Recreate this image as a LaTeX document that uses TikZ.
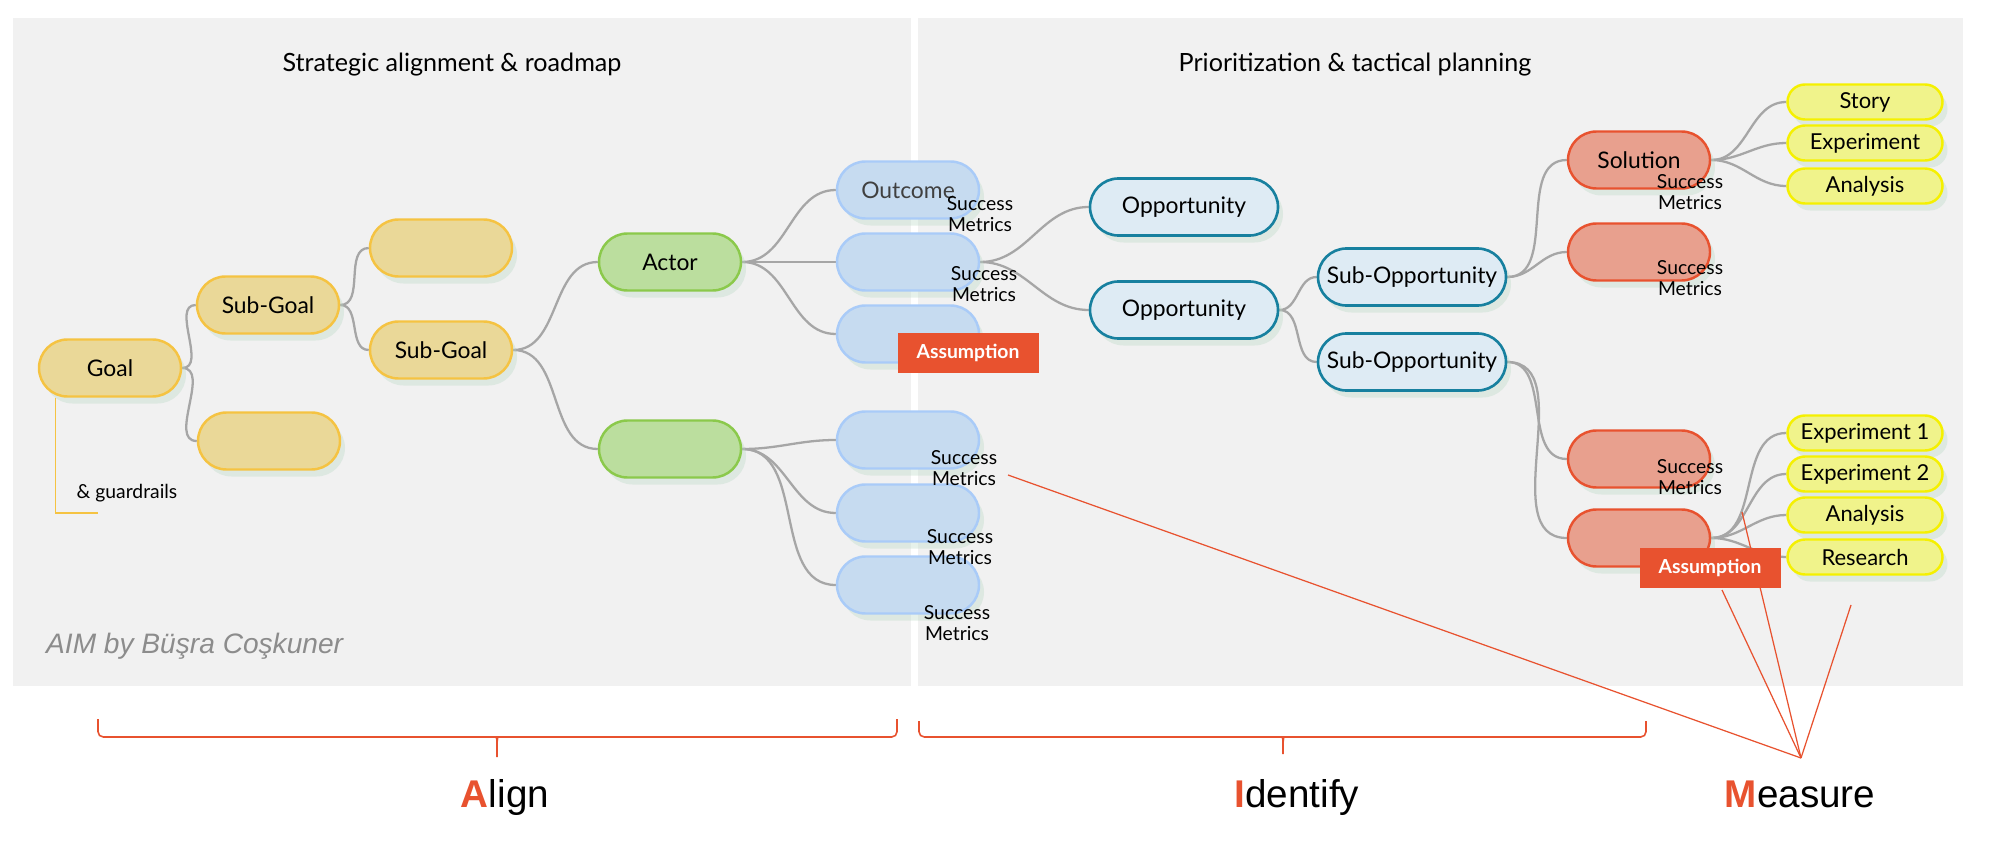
\documentclass[tikz,border=0pt]{standalone}
\usepackage{fontspec}
\setmainfont{Lato}
\newfontfamily\labelfont{Liberation Sans}
\usetikzlibrary{shadows,backgrounds}

% colours
\definecolor{panelgray}{HTML}{F1F1F1}
\definecolor{linegray}{HTML}{A6A6A6}
\definecolor{shadowgreen}{HTML}{B9D8C4}
\definecolor{goalfill}{HTML}{EAD898}
\definecolor{goaldraw}{HTML}{F5C342}
\definecolor{actorfill}{HTML}{BBDE9E}
\definecolor{actordraw}{HTML}{8BC94B}
\definecolor{outfill}{HTML}{C6DBF0}
\definecolor{outdraw}{HTML}{A9CBF8}
\definecolor{oppfill}{HTML}{DEEBF4}
\definecolor{oppdraw}{HTML}{17809F}
\definecolor{solfill}{HTML}{E8A08E}
\definecolor{aimred}{HTML}{E8522F}
\definecolor{taskfill}{HTML}{F0F38B}
\definecolor{taskdraw}{HTML}{F5F000}
\definecolor{creditgray}{HTML}{8C8C8C}

\begin{document}
\begin{tikzpicture}[
    pill/.style={rectangle, rounded corners=0.57cm, minimum width=2.84cm, minimum height=1.14cm,
      line width=1.4pt, font=\fontsize{13}{15}\selectfont,
      drop shadow={shadow xshift=0.1cm, shadow yshift=-0.14cm, fill=shadowgreen, opacity=0.35}},
    goalbox/.style={pill, fill=goalfill, draw=goaldraw},
    actorbox/.style={pill, fill=actorfill, draw=actordraw},
    outbox/.style={pill, fill=outfill, draw=outdraw},
    oppbox/.style={pill, fill=oppfill, draw=oppdraw, minimum width=3.76cm, line width=1.5pt},
    solbox/.style={pill, fill=solfill, draw=aimred},
    taskbox/.style={pill, fill=taskfill, draw=taskdraw, minimum width=3.1cm, minimum height=0.7cm,
      rounded corners=0.35cm, inner sep=1pt, font=\fontsize{12.5}{14}\selectfont},
    metric/.style={align=center, inner sep=0pt, font=\fontsize{11}{12}\selectfont},
    flag/.style={fill=aimred, text=white, minimum width=2.82cm, minimum height=0.8cm,
      font=\bfseries\fontsize{11}{13}\selectfont},
    panel/.style={fill=panelgray},
    branch/.style={draw=linegray, line width=1.3pt},
    pointer/.style={draw=aimred, line width=0.7pt},
    bracket/.style={draw=aimred, line width=0.9pt, rounded corners=3pt},
    title/.style={font=\fontsize{14.3}{16}\selectfont},
    stage/.style={font=\labelfont\fontsize{22}{26}\selectfont, anchor=base}
  ]
  \useasboundingbox (0,0) rectangle (39.8,17.16);

  % titles
  \node[title] (lefttitle) at (9.04,15.86) {Strategic alignment \& roadmap};
  \node[title] (righttitle) at (27.1,15.86) {Prioritization \& tactical planning};

  % goals
  \node[goalbox] (goal) at (2.2,9.8) {Goal};
  \node[goalbox] (subgoal) at (5.36,11.06) {Sub-Goal};
  \node[goalbox] (goalB) at (5.38,8.34) {};
  \node[goalbox] (subgoalA) at (8.82,12.2) {};
  \node[goalbox] (subgoalB) at (8.82,10.16) {Sub-Goal};

  % actors
  \node[actorbox] (actor) at (13.4,11.92) {Actor};
  \node[actorbox] (actorB) at (13.4,8.18) {};

  % outcomes
  \node[outbox, text=black!75] (outcome) at (18.16,13.36) {Outcome};
  \node[outbox] (outB) at (18.16,11.92) {};
  \node[outbox] (outC) at (18.16,10.48) {};
  \node[outbox] (outD) at (18.16,8.36) {};
  \node[outbox] (outE) at (18.16,6.9) {};
  \node[outbox] (outF) at (18.16,5.46) {};

  % opportunities
  \node[oppbox] (opp) at (23.68,13.02) {Opportunity};
  \node[oppbox] (oppB) at (23.68,10.96) {Opportunity};
  \node[oppbox] (subopp) at (28.24,11.62) {Sub-Opportunity};
  \node[oppbox] (suboppB) at (28.24,9.92) {Sub-Opportunity};

  % solutions
  \node[solbox] (solution) at (32.78,13.96) {Solution};
  \node[solbox] (solB) at (32.78,12.12) {};
  \node[solbox] (solC) at (32.78,7.98) {};
  \node[solbox] (solD) at (32.78,6.4) {};

  % tasks
  \node[taskbox] (story) at (37.3,15.12) {Story};
  \node[taskbox] (experiment) at (37.3,14.3) {Experiment};
  \node[taskbox] (analysis) at (37.3,13.44) {Analysis};
  \node[taskbox] (expA) at (37.3,8.5) {Experiment 1};
  \node[taskbox] (expB) at (37.3,7.68) {Experiment 2};
  \node[taskbox] (analysisB) at (37.3,6.86) {Analysis};
  \node[taskbox] (research) at (37.3,6.02) {Research};

  % success metrics
  \node[metric] (smA) at (19.6,12.88) {Success\\Metrics};
  \node[metric] (smB) at (19.68,11.48) {Success\\Metrics};
  \node[metric] (smC) at (19.28,7.8) {Success\\Metrics};
  \node[metric] (smD) at (19.2,6.22) {Success\\Metrics};
  \node[metric] (smE) at (19.14,4.7) {Success\\Metrics};
  \node[metric] (smF) at (33.8,13.32) {Success\\Metrics};
  \node[metric] (smG) at (33.8,11.6) {Success\\Metrics};
  \node[metric] (smH) at (33.8,7.62) {Success\\Metrics};

  % assumptions
  \node[flag] (assumption) at (19.36,10.1) {Assumption};
  \node[flag] (assumptionB) at (34.2,5.8) {Assumption};

  % guardrails and credit
  \coordinate (guardend) at (1.96,6.9);
  \node[font=\fontsize{11}{13}\selectfont] (guardrails) at (2.54,7.3) {\& guardrails};
  \node[anchor=west, text=creditgray, font=\labelfont\itshape\fontsize{16}{18}\selectfont] (credit) at (0.8,4.24) {AIM by Büşra Coşkuner};

  % stages
  \node[stage] (align) at (10.1,1.02) {\textcolor{aimred}{\bfseries A}lign};
  \node[stage] (identify) at (25.94,1.02) {\textcolor{aimred}{\bfseries I}dentify};
  \node[stage] (measure) at (36.0,1.02) {\textcolor{aimred}{\bfseries M}easure};

  \coordinate (measurept) at (36.02,2.0);
  \coordinate (mA) at (20.16,7.66);
  \coordinate (mB) at (34.84,6.92);
  \coordinate (mC) at (34.44,5.36);
  \coordinate (mD) at (37.02,5.06);

  \begin{scope}[on background layer]
    \fill[white] (0,0) rectangle (39.8,17.16);
    \fill[panel] (0.26,3.44) rectangle (18.22,16.8);
    \fill[panel] (18.36,3.44) rectangle (39.26,16.8);

    % branches
    \draw[branch] (goal.east) to[out=0,in=180] (subgoal.west);
    \draw[branch] (goal.east) to[out=0,in=180] (goalB.west);
    \draw[branch] (subgoal.east) to[out=0,in=180] (subgoalA.west);
    \draw[branch] (subgoal.east) to[out=0,in=180] (subgoalB.west);
    \draw[branch] (subgoalB.east) to[out=0,in=180] (actor.west);
    \draw[branch] (subgoalB.east) to[out=0,in=180] (actorB.west);
    \draw[branch] (actor.east) to[out=0,in=180] (outcome.west);
    \draw[branch] (actor.east) to[out=0,in=180] (outB.west);
    \draw[branch] (actor.east) to[out=0,in=180] (outC.west);
    \draw[branch] (actorB.east) to[out=0,in=180] (outD.west);
    \draw[branch] (actorB.east) to[out=0,in=180] (outE.west);
    \draw[branch] (actorB.east) to[out=0,in=180] (outF.west);
    \draw[branch] (outB.east) to[out=0,in=180] (opp.west);
    \draw[branch] (outB.east) to[out=0,in=180] (oppB.west);
    \draw[branch] (oppB.east) to[out=0,in=180] (subopp.west);
    \draw[branch] (oppB.east) to[out=0,in=180] (suboppB.west);
    \draw[branch] (subopp.east) to[out=0,in=180] (solution.west);
    \draw[branch] (subopp.east) to[out=0,in=180] (solB.west);
    \draw[branch] (suboppB.east) to[out=0,in=180] (solC.west);
    \draw[branch] (suboppB.east) to[out=0,in=180] (solD.west);
    \draw[branch] (solution.east) to[out=0,in=180] (story.west);
    \draw[branch] (solution.east) to[out=0,in=180] (experiment.west);
    \draw[branch] (solution.east) to[out=0,in=180] (analysis.west);
    \draw[branch] (solD.east) to[out=0,in=180] (expA.west);
    \draw[branch] (solD.east) to[out=0,in=180] (expB.west);
    \draw[branch] (solD.east) to[out=0,in=180] (analysisB.west);
    \draw[branch] (solD.east) to[out=0,in=180] (research.west);

    % guardrails
    \draw[goaldraw, line width=0.6pt] ([xshift=0.36cm]goal.south west) |- (guardend);

    % measure pointers
    \draw[pointer] (mA) -- (measurept);
    \draw[pointer] (mB) -- (measurept);
    \draw[pointer] (mC) -- (measurept);
    \draw[pointer] (mD) -- (measurept);
  \end{scope}

  % brackets
  \draw[bracket] (1.96,2.78) -- (1.96,2.42) -- (9.82,2.42) .. controls (9.92,2.42) and (9.94,2.36) .. (9.94,2.26) -- (9.94,2.02);
  \draw[bracket] (17.94,2.78) -- (17.94,2.42) -- (10.06,2.42) .. controls (9.96,2.42) and (9.94,2.36) .. (9.94,2.26);
  \draw[bracket] (18.38,2.74) -- (18.38,2.42) -- (25.54,2.42) .. controls (25.64,2.42) and (25.66,2.36) .. (25.66,2.26) -- (25.66,2.08);
  \draw[bracket] (32.92,2.74) -- (32.92,2.42) -- (25.78,2.42) .. controls (25.68,2.42) and (25.66,2.36) .. (25.66,2.26);
\end{tikzpicture}
\end{document}
